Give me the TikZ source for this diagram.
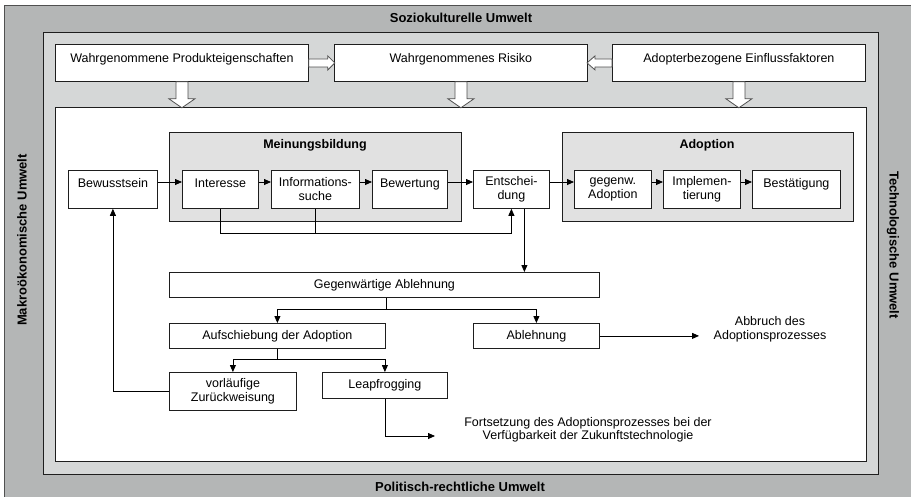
\documentclass[tikz,border=0pt]{standalone}
\usepackage{fontspec}
\setmainfont{Liberation Sans}
\usetikzlibrary{arrows.meta,calc}
\definecolor{outergray}{RGB}{180,182,182}
\definecolor{innergray}{RGB}{213,215,215}
\definecolor{groupgray}{RGB}{225,225,225}
\definecolor{framegray}{RGB}{80,80,80}
\definecolor{inkgray}{RGB}{30,30,30}
\begin{document}
\begin{tikzpicture}[x=1pt,y=-1pt,
  font=\fontsize{12.5}{14}\selectfont,
  box/.style={draw=inkgray, fill=white, line width=0.8pt, inner sep=0pt,
              align=center, anchor=north west},
  group/.style={draw=inkgray, fill=groupgray, line width=0.8pt, anchor=north west, inner sep=0pt},
  lifted/.style={text height=9pt, text depth=#1},
  title/.style={font=\fontsize{12.5}{14}\selectfont\bfseries},
  envtitle/.style={font=\fontsize{13}{15}\selectfont\bfseries},
  arr/.style={draw=black, line width=0.8pt, -{Triangle[length=7pt,width=6pt]}},
  conn/.style={draw=black, line width=0.8pt},
  hollow/.style={draw=framegray, fill=white, line width=0.8pt, line join=miter},
  plain/.style={align=center, inner sep=0pt}
]
\useasboundingbox (0,0) rectangle (911,496);

% environment frames
\fill[white] (0,0) rectangle (911,496);
\draw[draw=framegray, fill=outergray, line width=0.9pt] (4,5) rectangle (914,499);
\draw[draw=inkgray, fill=innergray, line width=0.9pt] (43,32) rectangle (878,474);
\draw[draw=inkgray, fill=white, line width=0.9pt] (55,107) rectangle (866,461);

% environment labels
\node[envtitle] (soz) at (461,18) {Soziokulturelle Umwelt};
\node[envtitle] (pol) at (460,487) {Politisch-rechtliche Umwelt};
\node[envtitle, rotate=90] (makro) at (22,240) {Makroökonomische Umwelt};
\node[envtitle, rotate=-90] (tech) at (893,245) {Technologische Umwelt};

% influence factors
\node[box, lifted=9pt, minimum width=253, minimum height=37] (prod) at (55,44) {Wahrgenommene Produkteigenschaften};
\node[box, lifted=9pt, minimum width=253, minimum height=37] (risk) at (334,44) {Wahrgenommenes Risiko};
\node[box, lifted=9pt, minimum width=253, minimum height=37] (adopt) at (612,44) {Adopterbezogene Einflussfaktoren};

% block arrows between the factors
\draw[hollow, shift={(prod.east)}] (0,-4) -- (19,-4) -- (19,-7) -- (26,0) -- (19,7) -- (19,4) -- (0,4) -- cycle;
\draw[hollow, shift={(adopt.west)}] (0,-4) -- (-17,-4) -- (-17,-7) -- (-25,0) -- (-17,7) -- (-17,4) -- (0,4) -- cycle;
% block arrows into the process
\foreach \n in {prod,risk,adopt}{
  \draw[hollow, shift={(\n.south)}] (-6,0) -- (-6,17) -- (-13,17) -- (0,26) -- (13,17) -- (6,17) -- (6,0) -- cycle;
}

% phase groups
\node[group, minimum width=292, minimum height=89] (mb) at (169,132) {};
\node[title] (mbt) at (315,145) {Meinungsbildung};
\node[group, minimum width=291, minimum height=89] (ad) at (562,132) {};
\node[title] (adt) at (707,145) {Adoption};

% process steps
\node[box, lifted=12pt, minimum width=89, minimum height=38] (bew) at (68,170) {Bewusstsein};
\node[box, lifted=12pt, minimum width=76, minimum height=38] (int) at (182,170) {Interesse};
\node[box, minimum width=88, minimum height=38] (inf) at (271,170) {Informations-\\suche};
\node[box, lifted=12pt, minimum width=75, minimum height=38] (bwt) at (372,170) {Bewertung};
\node[box, minimum width=76, minimum height=38] (ent) at (473,170) {Entschei-\\dung};
\node[box, minimum width=77, minimum height=38] (gad) at (574,170) {gegenw.\\Adoption};
\node[box, minimum width=77, minimum height=38] (imp) at (663,170) {Implemen-\\tierung};
\node[box, lifted=12pt, minimum width=88, minimum height=38] (bst) at (752,170) {Bestätigung};

\coordinate (row) at (0,182);
\draw[arr] (bew.east |- row) -- (int.west |- row);
\draw[arr] (int.east |- row) -- (inf.west |- row);
\draw[arr] (inf.east |- row) -- (bwt.west |- row);
\draw[arr] (bwt.east |- row) -- (ent.west |- row);
\draw[arr] (ent.east |- row) -- (gad.west |- row);
\draw[arr] (gad.east |- row) -- (imp.west |- row);
\draw[arr] (imp.east |- row) -- (bst.west |- row);

% shortcut to the decision
\coordinate (fb) at (0,233);
\draw[arr] (int.south) |- (ent.south |- fb) -- (ent.south);
\draw[conn] (inf.south) -- (inf.south |- fb);

% rejection branch
\node[box, minimum width=430, minimum height=25] (gab) at (169,272) {Gegenwärtige Ablehnung};
\draw[arr] ([xshift=13pt]ent.south) -- ([xshift=13pt]ent.south |- gab.north);

\node[box, minimum width=216, minimum height=25] (auf) at (169,323) {Aufschiebung der Adoption};
\node[box, minimum width=126, minimum height=25] (abl) at (473,323) {Ablehnung};
\coordinate (s1) at (0,309);
\draw[arr] ([xshift=2pt]gab.south) |- (auf.north |- s1) -- (auf.north);
\draw[arr] ([xshift=2pt]gab.south |- s1) -| (abl.north);

\node[plain] (abbr) at (770,329) {Abbruch des\\Adoptionsprozesses};
\coordinate (abbrend) at (699,0);
\draw[arr] (abl.east) -- (abl.east -| abbrend);

\node[box, minimum width=127, minimum height=38] (vorl) at (169,372) {vorläufige\\Zurückweisung};
\node[box, minimum width=125, minimum height=26] (leap) at (322,372) {Leapfrogging};
\coordinate (s2) at (0,359);
\draw[arr] (auf.south) |- (vorl.north |- s2) -- (vorl.north);
\draw[arr] (auf.south |- s2) -| (leap.north);

% back to awareness
\draw[arr] (vorl.west) -| (bew.south);

% leapfrogging continuation
\node[plain, font=\fontsize{12.5}{13.5}\selectfont] (fort) at (588,430) {Fortsetzung des Adoptionsprozesses bei der\\Verfügbarkeit der Zukunftstechnologie};
\coordinate (fortend) at (435,436);
\draw[arr] (leap.south) |- (fortend);
\end{tikzpicture}
\end{document}
